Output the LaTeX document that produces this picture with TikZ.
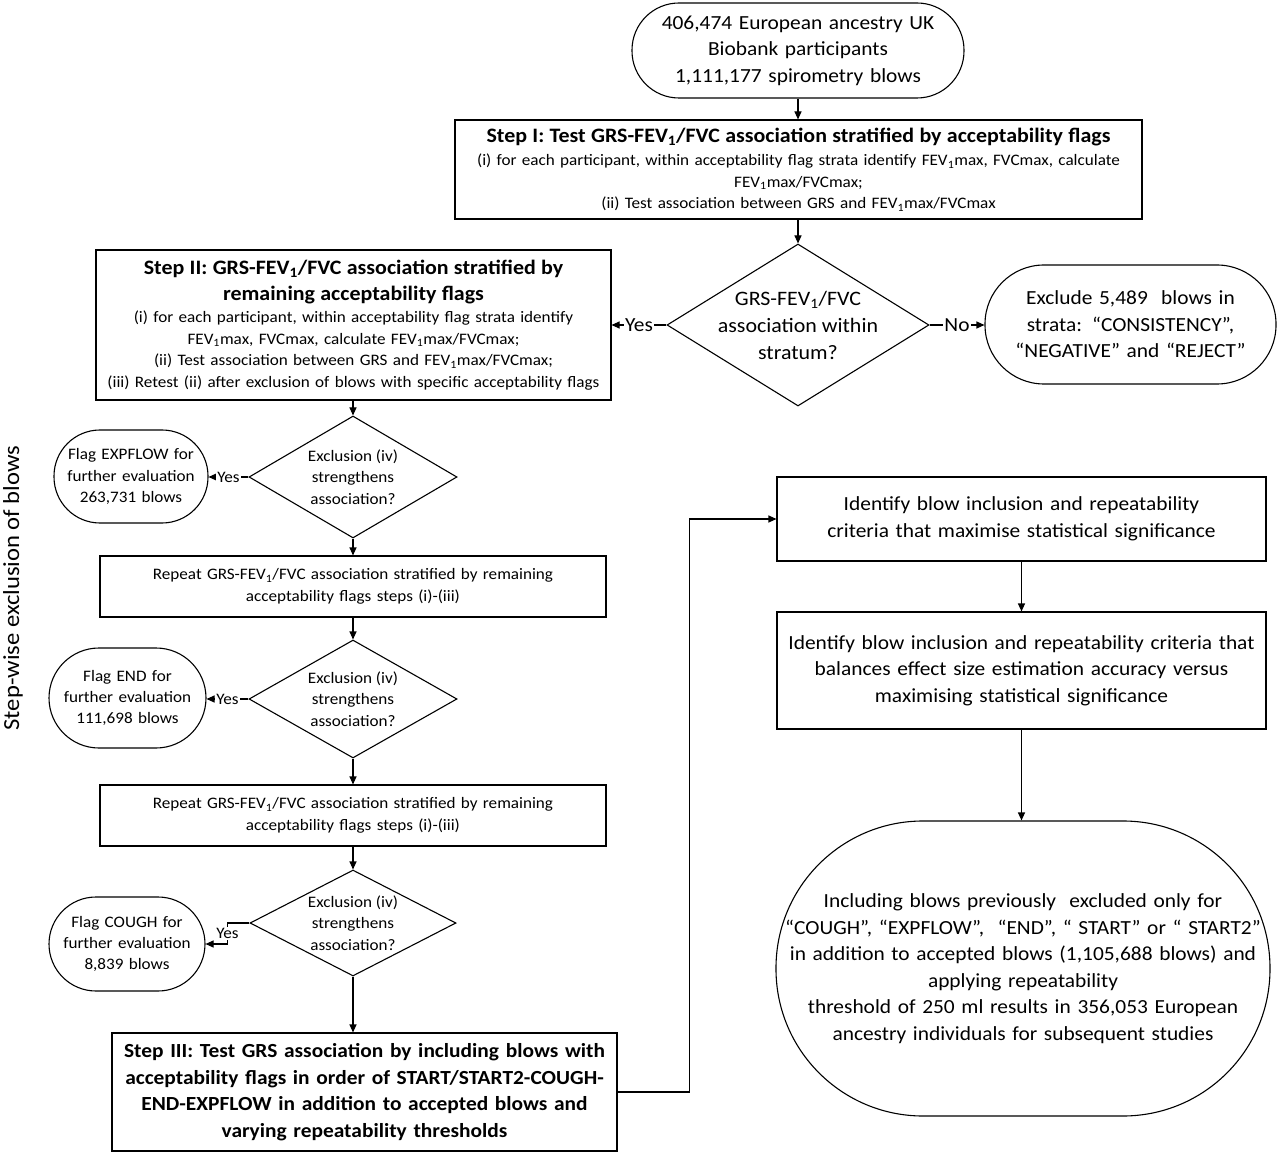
\documentclass[tikz,border=0pt]{standalone}
\usepackage{fontspec}
\setmainfont{Carlito}[FakeStretch=1.07]
\usetikzlibrary{shapes.geometric,arrows.meta}
\newcommand\FEV{FEV\textsubscript{1}}
\newcommand\oneline[1]{\makebox[\hsize][c]{#1}}
\newcommand\fsL{\fontsize{20}{26.5}\selectfont}
\newcommand\fsD{\fontsize{20.5}{27}\selectfont}
\newcommand\fsS{\fontsize{16}{21.4}\selectfont}
\newcommand\fsT{\fontsize{20.5}{26}\selectfont\bfseries}
\begin{document}
\begin{tikzpicture}[x=1pt,y=-1pt, line width=1.1pt,
 box/.style={draw, rectangle, inner sep=2pt, align=center, execute at begin node={\parindent=0pt}},
 stad/.style={draw, rectangle, inner sep=2pt, align=center, execute at begin node={\parindent=0pt}},
 dia/.style={draw, diamond, inner sep=0pt},
 dtxt/.style={inner sep=0pt, align=center},
 arr/.style={-{Triangle[length=8pt,width=7pt]}},
 lab/.style={fill=white, inner sep=1pt}]
\useasboundingbox (0,0) rectangle (1280,1155);

% top start
\node[stad, rounded corners=47pt, minimum width=332pt, minimum height=95pt, text width=328pt, font=\fsL] (top) at (798,50.5)
 {406,474 European ancestry UK\\Biobank participants\\1,111,177 spirometry blows};

% Step I
\node[box, minimum width=687pt, minimum height=99pt, text width=683pt, font=\fsS] (s1) at (798.5,169.5)
 {{\fsT Step I: Test GRS-\FEV/FVC association stratified by acceptability flags\par}\vspace{2pt}
 \oneline{(i) for each participant, within acceptability flag strata identify \FEV{}max, FVCmax, calculate}\\
 \FEV{}max/FVCmax;\\
 (ii) Test association between GRS and \FEV{}max/FVCmax};

% decision 1
\node[dia, minimum width=262pt, minimum height=162pt] (d1) at (798,325) {};
\node[dtxt, font=\fsD] (d1t) at (d1) {GRS-\FEV/FVC\\association within\\stratum?};

% exclude
\node[stad, rounded corners=59pt, minimum width=291pt, minimum height=119pt, text width=287pt, font=\fsL] (excl) at (1130.5,324.5)
 {Exclude 5,489~ blows in\\strata: “CONSISTENCY”,\\“NEGATIVE” and “REJECT”};

% Step II
\node[box, minimum width=515pt, minimum height=150pt, text width=511pt, font=\fsS] (s2) at (353.5,325)
 {{\fsT Step II: GRS-\FEV/FVC association stratified by\\remaining acceptability flags\par}\vspace{1pt}
 \oneline{(i) for each participant, within acceptability flag strata identify}\\
 \FEV{}max, FVCmax, calculate \FEV{}max/FVCmax;\\
 (ii) Test association between GRS and \FEV{}max/FVCmax;\\
 \oneline{(iii) Retest (ii) after exclusion of blows with specific acceptability flags}};

% decision 2 and flag 1
\node[dia, minimum width=208pt, minimum height=122pt] (d2) at (353,477) {};
\node[dtxt, font=\fsS] (d2t) at (d2) {Exclusion (iv)\\strengthens\\association?};
\node[stad, rounded corners=46pt, minimum width=154pt, minimum height=93pt, text width=150pt, font=\fsS] (f1) at (131,476.5)
 {\oneline{Flag EXPFLOW for}\\\oneline{further evaluation}\\263,731 blows};

% repeat 1
\node[box, minimum width=506pt, minimum height=61pt, text width=502pt, font=\fsS] (r1) at (353,586.5)
 {Repeat GRS-\FEV/FVC association stratified by remaining\\acceptability flags steps (i)-(iii)};

% decision 3 and flag 2
\node[dia, minimum width=208pt, minimum height=118pt] (d3) at (353,699) {};
\node[dtxt, font=\fsS] (d3t) at (d3) {Exclusion (iv)\\strengthens\\association?};
\node[stad, rounded corners=50pt, minimum width=157pt, minimum height=100pt, text width=153pt, font=\fsS] (f2) at (127.5,698)
 {Flag END for\\\oneline{further evaluation}\\111,698 blows};

% repeat 2
\node[box, minimum width=506pt, minimum height=61pt, text width=502pt, font=\fsS] (r2) at (353,815.5)
 {Repeat GRS-\FEV/FVC association stratified by remaining\\acceptability flags steps (i)-(iii)};

% decision 4 and flag 3
\node[dia, minimum width=206pt, minimum height=106pt] (d4) at (353,923) {};
\node[dtxt, font=\fsS] (d4t) at (d4) {Exclusion (iv)\\strengthens\\association?};
\node[stad, rounded corners=47pt, minimum width=156pt, minimum height=94pt, text width=152pt, font=\fsS] (f3) at (127,944)
 {Flag COUGH for\\\oneline{further evaluation}\\8,839 blows};

% Step III
\node[box, minimum width=505pt, minimum height=118pt, text width=501pt, font=\fsL\bfseries] (s3) at (364.5,1092)
 {\oneline{Step III: Test GRS association by including blows with}\\
 \oneline{acceptability flags in order of START/START2-COUGH-}\\
 \oneline{END-EXPFLOW in addition to accepted blows and}\\
 varying repeatability thresholds};

% right column
\node[box, minimum width=489pt, minimum height=84pt, text width=485pt, font=\fsL] (A) at (1021.5,519)
 {Identify blow inclusion and repeatability\\criteria that maximise statistical significance};
\node[box, minimum width=489pt, minimum height=117pt, text width=485pt, font=\fsL] (B) at (1021.5,670.5)
 {\oneline{Identify blow inclusion and repeatability criteria that}\\balances effect size estimation accuracy versus\\maximising statistical significance};
\node[stad, rounded corners=147pt, minimum width=494pt, minimum height=295pt, text width=490pt, font=\fsL] (C) at (1023,968.5)
 {Including blows previously~ excluded only for\\
 \oneline{“COUGH”, “EXPFLOW”,~ “END”, “ START” or “ START2”}\\
 \oneline{in addition to accepted blows (1,105,688 blows) and}\\
 applying repeatability\\
 \oneline{threshold of 250 ml results in 356,053 European}\\
 ancestry individuals for subsequent studies};

% side label
\node[rotate=90, font=\fontsize{23}{28}\selectfont, inner sep=0pt] (side) at (13,588) {Step-wise exclusion of blows};

% connectors
\draw[arr] (top.south) -- (top.south |- s1.north);
\draw[arr] (s1.south -| d1.north) -- (d1.north);
\draw[arr] (d1.west) -- node[lab, font=\fsL]{Yes} (s2.east |- d1.west);
\draw[arr] (d1.east) -- node[lab, font=\fsL]{No} (excl.west |- d1.east);
\draw[arr] (s2.south -| d2.north) -- (d2.north);
\draw[arr] (d2.west) -- node[lab, font=\fsS]{Yes} (f1.east |- d2.west);
\draw[arr] (d2.south) -- (r1.north -| d2.south);
\draw[arr] (r1.south -| d3.north) -- (d3.north);
\draw[arr] (d3.west) -- node[lab, font=\fsS]{Yes} (f2.east |- d3.west);
\draw[arr] (d3.south) -- (r2.north -| d3.south);
\draw[arr] (r2.south -| d4.north) -- (d4.north);
\draw[arr] (d4.west) -- ++(-22,0) |- node[pos=0.25, lab, font=\fsS]{Yes} (f3.east);
\draw[arr] (d4.south) -- (s3.north -| d4.south);
\draw[arr] (s3.east) -- ++(72,0) |- (A.west);
\draw[arr] (A.south) -- (B.north);
\draw[arr] (B.south) -- (B.south |- C.north);
\end{tikzpicture}
\end{document}
